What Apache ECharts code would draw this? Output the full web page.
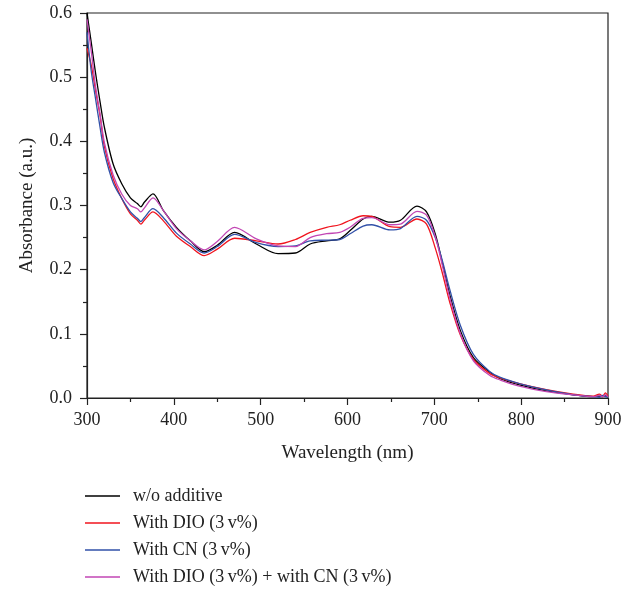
<!DOCTYPE html>
<html>
<head>
<meta charset="utf-8">
<script src="https://cdn.jsdelivr.net/npm/echarts@6/dist/echarts.min.js"></script>
<style>
    html, body { margin: 0; padding: 0; background: #fff; }
    #chart { width: 634px; height: 591px; }
</style>
</head>
<body>
<div id="chart"></div>
<script>
// wavelength (nm) sample points
const wavelength = [300, 305, 310, 315, 320, 330, 340, 350, 358, 362, 366, 376, 388, 403, 419, 435, 450, 470, 495, 520,
    540, 557, 576, 591, 603, 618, 628, 649, 661, 680, 691, 701, 709, 718, 730, 745, 764, 776, 799, 829,
    860, 883, 890, 894, 897, 900];

const noAdditive = [0.600, 0.553, 0.505, 0.462, 0.422, 0.365, 0.334, 0.312, 0.303, 0.298, 0.305, 0.318, 0.292, 0.266, 0.245, 0.228, 0.238, 0.258, 0.240, 0.225,
    0.226, 0.240, 0.245, 0.248, 0.261, 0.279, 0.283, 0.274, 0.277, 0.299, 0.290, 0.256, 0.212, 0.160, 0.105, 0.063, 0.040, 0.030, 0.020, 0.011,
    0.005, 0.002, 0.003, 0.002, 0.004, 0.001];

const withDIO = [0.545, 0.518, 0.478, 0.440, 0.392, 0.342, 0.311, 0.287, 0.277, 0.271, 0.277, 0.290, 0.276, 0.252, 0.236, 0.222, 0.232, 0.249, 0.245, 0.240,
    0.247, 0.258, 0.266, 0.270, 0.277, 0.284, 0.283, 0.267, 0.266, 0.279, 0.271, 0.234, 0.196, 0.148, 0.098, 0.060, 0.038, 0.031, 0.022, 0.013,
    0.006, 0.003, 0.006, 0.003, 0.008, 0.003];

const withCN = [0.570, 0.508, 0.465, 0.422, 0.383, 0.336, 0.311, 0.290, 0.280, 0.275, 0.281, 0.295, 0.281, 0.257, 0.240, 0.226, 0.236, 0.255, 0.242, 0.236,
    0.237, 0.245, 0.246, 0.247, 0.256, 0.268, 0.270, 0.262, 0.264, 0.283, 0.277, 0.250, 0.215, 0.168, 0.113, 0.068, 0.041, 0.032, 0.022, 0.0125,
    0.005, 0.002, 0.001, 0.004, 0.002, 0.001];

const withBoth = [0.590, 0.539, 0.484, 0.443, 0.398, 0.348, 0.318, 0.300, 0.295, 0.290, 0.296, 0.312, 0.292, 0.264, 0.245, 0.231, 0.244, 0.266, 0.248, 0.237,
    0.236, 0.250, 0.256, 0.258, 0.266, 0.280, 0.281, 0.270, 0.271, 0.291, 0.285, 0.252, 0.208, 0.155, 0.100, 0.058, 0.035, 0.028, 0.018, 0.010,
    0.005, 0.002, 0.004, 0.002, 0.005, 0.002];

const seriesNames = ['w/o additive', 'With DIO (3\u2009v%)', 'With CN (3\u2009v%)', 'With DIO (3\u2009v%) + with CN (3\u2009v%)'];
const seriesColors = ['#000000', '#f0141e', '#3150a8', '#c246b4'];
const seriesData = [noAdditive, withDIO, withCN, withBoth];

const font = '"Liberation Serif", "DejaVu Serif", serif';

var myChart = echarts.init(document.getElementById('chart'));

myChart.setOption({
    animation: false,
    textStyle: { fontFamily: font },
    grid: {
        left: 87,
        right: 26,
        top: 13,
        bottom: 193,
        show: true,
        borderColor: '#222',
        borderWidth: 1.2
    },
    legend: {
        orient: 'vertical',
        left: 85,
        top: 487,
        padding: 0,
        icon: 'rect',
        itemWidth: 35,
        itemHeight: 1.4,
        itemGap: 9,
        textStyle: { fontFamily: font, fontSize: 18, lineHeight: 18, color: '#222', padding: [0, 0, 0, 8] },
        data: seriesNames
    },
    xAxis: {
        type: 'value',
        min: 300,
        max: 900,
        interval: 100,
        name: 'Wavelength (nm)',
        nameLocation: 'middle',
        nameGap: 46,
        nameTextStyle: { fontFamily: font, fontSize: 19, color: '#222' },
        axisLine: { lineStyle: { color: '#222', width: 1.2 } },
        axisTick: { length: 7, lineStyle: { color: '#222', width: 1.2 } },
        minorTick: { show: true, splitNumber: 2, length: 4, lineStyle: { color: '#222', width: 1.2 } },
        splitLine: { show: false },
        axisLabel: { fontFamily: font, fontSize: 18, color: '#222', margin: 13 }
    },
    yAxis: {
        type: 'value',
        min: 0,
        max: 0.6,
        interval: 0.1,
        name: 'Absorbance (a.u.)',
        nameLocation: 'middle',
        nameGap: 50,
        nameTextStyle: { fontFamily: font, fontSize: 19, color: '#222' },
        axisLine: { show: true, lineStyle: { color: '#222', width: 1.2 } },
        axisTick: { show: true, length: 7, lineStyle: { color: '#222', width: 1.2 } },
        minorTick: { show: true, splitNumber: 2, length: 4, lineStyle: { color: '#222', width: 1.2 } },
        splitLine: { show: false },
        axisLabel: {
            fontFamily: font, fontSize: 18, color: '#222', margin: 15,
            formatter: function (v) { return v.toFixed(1); }
        }
    },
    series: seriesNames.map(function (name, i) {
        return {
            name: name,
            type: 'line',
            symbol: 'none',
            smooth: 0.3,
            color: seriesColors[i],
            lineStyle: { width: 1.3, color: seriesColors[i] },
            data: wavelength.map(function (w, j) { return [w, seriesData[i][j]]; })
        };
    })
});
</script>
</body>
</html>
